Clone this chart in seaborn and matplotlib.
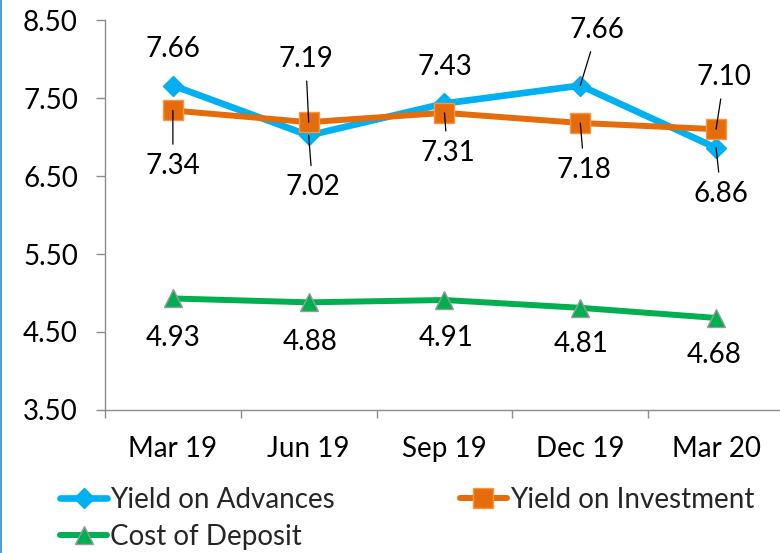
import matplotlib
matplotlib.use("Agg")
import matplotlib.pyplot as plt
import seaborn as sns
import pandas as pd
from matplotlib.lines import Line2D

categories = ["Mar 19", "Jun 19", "Sep 19", "Dec 19", "Mar 20"]
yield_on_advances = [7.66, 7.02, 7.43, 7.66, 6.86]
yield_on_investment = [7.34, 7.19, 7.31, 7.18, 7.10]
cost_of_deposit = [4.93, 4.88, 4.91, 4.81, 4.68]
series_names = ["Yield on Advances", "Yield on Investment", "Cost of Deposit"]
y_ticks = [3.5, 4.5, 5.5, 6.5, 7.5, 8.5]
y_tick_labels = ["3.50", "4.50", "5.50", "6.50", "7.50", "8.50"]

sns.set_theme(style="ticks")
plt.rcParams["font.family"] = ["Lato", "DejaVu Sans"]

FS = 20
GRAY = "#8c8c8c"

fig = plt.figure(figsize=(7.8, 5.53), dpi=100)
fig.patch.set_facecolor("white")
ax = fig.add_axes([0.1346, 0.2586, 0.8705, 0.7052])

# label offsets in pixels (dx, dy down), leader flag
styles = {
    "Yield on Advances": dict(color="#00B0F0", marker="D", ms=10.5, mec="#00B0F0", lw=4.8,
                              offs=[(0, -36.5, False), (4, 52, True), (0, -36.5, False),
                                    (17, -55.5, True), (5, 46, True)]),
    "Yield on Investment": dict(color="#E46C0A", marker="s", ms=14, mec="#F79646", lw=4.3,
                                offs=[(0, 55.5, True), (-3, -63, True), (3, 40, True),
                                      (4, 47, True), (8, -52, True)]),
    "Cost of Deposit": dict(color="#00B050", marker="^", ms=13, mec="#9a9a9a", lw=4.3,
                            offs=[(0, 39.5, False), (1, 39.6, False), (2, 38, False),
                                  (1, 36, False), (-2, 37, False)]),
}
values = {
    "Yield on Advances": yield_on_advances,
    "Yield on Investment": yield_on_investment,
    "Cost of Deposit": cost_of_deposit,
}

handles = {}
for name in series_names:
    st = styles[name]
    df = pd.DataFrame({"Quarter": categories, "Value": values[name]})
    sns.lineplot(data=df, x="Quarter", y="Value", ax=ax, color=st["color"], lw=st["lw"],
                 marker=st["marker"], markersize=st["ms"], markeredgecolor=st["mec"],
                 markeredgewidth=1, sort=False, legend=False, solid_capstyle="round")
    handles[name] = Line2D([], [], color=st["color"], lw=st["lw"], marker=st["marker"],
                           markersize=st["ms"], markeredgecolor=st["mec"], markeredgewidth=1,
                           solid_capstyle="round")
    for i, v in enumerate(values[name]):
        dx, dy, leader = st["offs"][i]
        kw = {}
        if leader:
            kw["arrowprops"] = dict(arrowstyle="-", color="black", lw=0.9,
                                    shrinkA=4, shrinkB=0)
        ax.annotate(f"{v:.2f}", xy=(i, v), xytext=(dx * 0.72, -dy * 0.72),
                    textcoords="offset points", ha="center", va="center",
                    fontsize=FS, color="black", zorder=5, **kw)

ax.set_xlim(-0.5, 4.5)
ax.set_ylim(3.5, 8.5)
ax.set_yticks(y_ticks)
ax.set_yticklabels(y_tick_labels)
ax.set_xticks(range(len(categories)))
ax.set_xticklabels(categories)
ax.set_xticks([k - 0.5 for k in range(len(categories) + 1)], minor=True)
ax.set_xlabel("")
ax.set_ylabel("")

sns.despine(ax=ax)
for sp in ["left", "bottom"]:
    ax.spines[sp].set_color(GRAY)
    ax.spines[sp].set_linewidth(1.0)

ax.tick_params(axis="y", which="major", length=6.5, width=1, color=GRAY, pad=13,
               labelsize=FS, labelcolor="black")
ax.tick_params(axis="x", which="major", length=0, pad=19, labelsize=FS, labelcolor="black")
ax.tick_params(axis="x", which="minor", length=6, width=1, color=GRAY)
ax.set_facecolor("white")

order = ["Yield on Advances", "Cost of Deposit", "Yield on Investment"]
fig.legend([handles[n] for n in order], order, ncol=2, loc="upper left",
           bbox_to_anchor=(0.077, 1 - 487 / 553), frameon=False, fontsize=FS,
           handlelength=1.7, handletextpad=0.1, columnspacing=4.5, borderpad=0,
           borderaxespad=0, labelspacing=0.38)

fig.add_artist(Line2D([0.0015, 0.0015], [0, 1], transform=fig.transFigure,
                      color="#5B9BD5", lw=1.5))

fig.savefig("out.png", dpi=100, facecolor="white")
